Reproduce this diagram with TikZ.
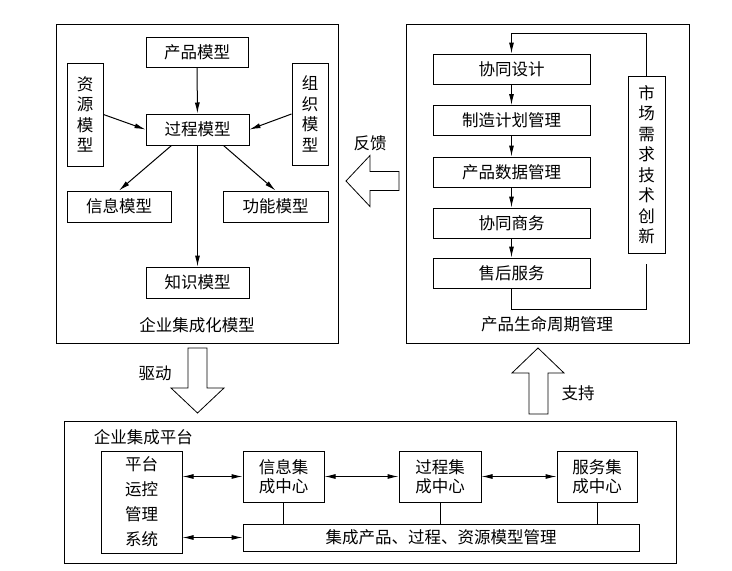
\documentclass[tikz,border=0pt]{standalone}
\usepackage{fontspec}
\setmainfont{Noto Sans CJK SC}
\usepackage{tikz}
\usetikzlibrary{arrows.meta,calc}

\begin{document}
\begin{tikzpicture}[x=1pt,y=-1pt,line width=1pt,
  font=\fontsize{16.5}{20.5}\selectfont,
  box/.style={draw,inner sep=0pt,align=center},
  arr/.style={-{Latex[length=11pt,width=5pt]}},
  darr/.style={{Latex[length=11pt,width=5pt]}-{Latex[length=11pt,width=5pt]}},
  hollow/.style={draw,fill=white,line width=0.8pt}]

\useasboundingbox (0,0) rectangle (732,571);

% enterprise integration model (left frame)
\draw (56,24) rectangle (338,343);
\node[box,minimum width=102,minimum height=30] (cpmx) at (197,52) {产品模型};
\node[box,minimum width=103,minimum height=31] (gcmx) at (197.5,129.5) {过程模型};
\node[box,minimum width=36,minimum height=103] (zymx) at (85,114.5) {资\\源\\模\\型};
\node[box,minimum width=36,minimum height=102] (zzmx) at (310,114) {组\\织\\模\\型};
\node[box,minimum width=104,minimum height=31] (xxmx) at (119,206.5) {信息模型};
\node[box,minimum width=105,minimum height=31] (gnmx) at (275.5,206.5) {功能模型};
\node[box,minimum width=103,minimum height=31] (zsmx) at (197.5,282.5) {知识模型};
\node (qymx) at (197,325) {企业集成化模型};

\draw[arr] (cpmx) -- (gcmx);
\draw[arr] (zymx.east) -- (gcmx.west);
\draw[arr] (zzmx.west) -- (gcmx.east);
\draw[arr] ($(gcmx.south)!0.5!(gcmx.south west)$) -- (xxmx.north);
\draw[arr] ($(gcmx.south)!0.5!(gcmx.south east)$) -- (gnmx.north);
\draw[arr] (gcmx) -- (zsmx);

% product lifecycle management (right frame)
\draw (406,24) rectangle (689,343);
\foreach \name/\txt/\y in {xtsj/协同设计/69, zzjh/制造计划管理/120.5, cpsj/产品数据管理/172,
                           xtsw/协同商务/223, shfw/售后服务/273}
  \node[box,minimum width=157,minimum height=30] (\name) at (511.5,\y) {\txt};
\node[box,minimum width=37,minimum height=177] (scxq) at (646.5,164.5) {市\\场\\需\\求\\技\\术\\创\\新};
\node (smzq) at (547,324) {产品生命周期管理};

\draw[arr] (xtsj) -- (zzjh);
\draw[arr] (zzjh) -- (cpsj);
\draw[arr] (cpsj) -- (xtsw);
\draw[arr] (xtsw) -- (shfw);
% feedback loop through market demand
\draw[arr] (scxq.north) |- (xtsj.north |- 0,33) -- (xtsj.north);
\draw (shfw.south) -- (shfw.south |- 0,309) -| ([yshift=-10pt]scxq.south);

% big hollow arrows
\draw[hollow] (399,171.5) -- (370,171.5) -- (370,155.5) -- (346,181) -- (370,206.5)
  -- (370,190.5) -- (399,190.5) -- cycle;
\node (fk) at (370,143) {反馈};

\draw[hollow] (188,348) -- (188,388) -- (171,388) -- (197.5,413) -- (224,388)
  -- (207,388) -- (207,348) -- cycle;
\node (qd) at (155,373) {驱动};

\draw[hollow] (529,414) -- (529,373) -- (512,373) -- (538,348) -- (564,373)
  -- (548,373) -- (548,414) -- cycle;
\node (zc) at (578,393) {支持};

% enterprise integration platform (bottom frame)
\draw (64,421) rectangle (676,563);
\node[anchor=west] (jcpt) at (90,437) {企业集成平台};
\node[box,minimum width=81,minimum height=102,font=\fontsize{16.5}{25}\selectfont]
  (ptyk) at (141.5,502) {平台\\运控\\管理\\系统};
\node[box,minimum width=81,minimum height=51,font=\fontsize{16.5}{19}\selectfont]
  (xxjc) at (283.5,476.5) {信息集\\成中心};
\node[box,minimum width=82,minimum height=51,font=\fontsize{16.5}{19}\selectfont]
  (gcjc) at (440,476.5) {过程集\\成中心};
\node[box,minimum width=80,minimum height=51,font=\fontsize{16.5}{19}\selectfont]
  (fwjc) at (597,476.5) {服务集\\成中心};
\node[box,minimum width=396,minimum height=27] (mxgl) at (441,537.5) {集成产品、过程、资源模型管理};

\draw[darr] (xxjc.west -| ptyk.east) -- (xxjc.west);
\draw[darr] (mxgl.west -| ptyk.east) -- (mxgl.west);
\draw[darr] (xxjc) -- (gcjc);
\draw[darr] (gcjc) -- (fwjc);
\draw (xxjc.south) -- (xxjc.south |- mxgl.north);
\draw (gcjc.south) -- (gcjc.south |- mxgl.north);
\draw (fwjc.south) -- (fwjc.south |- mxgl.north);

\end{tikzpicture}
\end{document}
